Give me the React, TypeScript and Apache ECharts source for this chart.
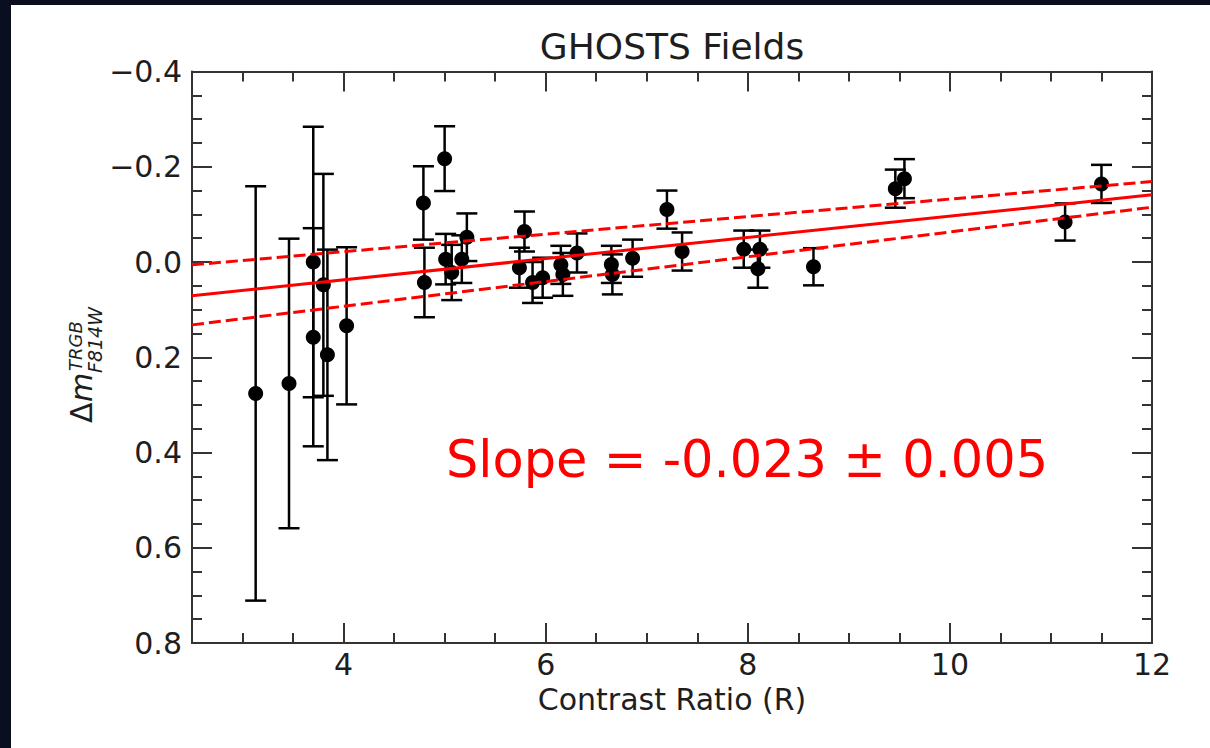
import React, { useEffect, useRef } from "react";
import * as echarts from "echarts";

// ---- data ----
const contrastRatio = [
  3.13, 3.46, 3.70, 3.70, 3.80, 3.84, 4.03, 4.79, 4.80, 5.00, 5.01, 5.07,
  5.17, 5.22, 5.74, 5.79, 5.87, 5.97, 6.15, 6.17, 6.31, 6.65, 6.66, 6.86,
  7.20, 7.35, 7.96, 8.10, 8.12, 8.65, 9.46, 9.55, 11.14, 11.50,
];
const deltaM = [
  0.276, 0.255, 0.000, 0.158, 0.048, 0.195, 0.134, -0.124, 0.043, -0.217, -0.006, 0.022,
  -0.006, -0.052, 0.012, -0.064, 0.043, 0.033, 0.006, 0.026, -0.019, 0.005, 0.026, -0.008,
  -0.110, -0.022, -0.027, 0.014, -0.027, 0.010, -0.154, -0.175, -0.084, -0.164,
];
const deltaMErr = [
  0.435, 0.304, 0.284, 0.229, 0.233, 0.221, 0.165, 0.077, 0.073, 0.068, 0.053, 0.058,
  0.050, 0.050, 0.042, 0.042, 0.043, 0.042, 0.040, 0.045, 0.041, 0.039, 0.042, 0.039,
  0.040, 0.040, 0.039, 0.040, 0.039, 0.039, 0.040, 0.041, 0.039, 0.040,
];
const fitX = [2.5, 12];
const fitMid = [0.071, -0.141];
const fitUpper = [0.006, -0.169];
const fitLower = [0.132, -0.115];
const xMajorTicks = [4, 6, 8, 10, 12];
const xMinorTicks = [3, 3.5, 4.5, 5, 5.5, 6.5, 7, 7.5, 8.5, 9, 9.5, 10.5, 11, 11.5];
const titleText = "GHOSTS Fields";
const xTitle = "Contrast Ratio (R)";
const slopeText = "Slope = -0.023 \u00b1 0.005";

const FONT = "'DejaVu Sans', 'Liberation Sans', sans-serif";
const AXIS_COLOR = "#333";
const TEXT_COLOR = "#1e1e1e";

function yFmt(v: number) {
  if (Math.abs(v) < 1e-9) return "0.0";
  return v < 0 ? "\u2212" + Math.abs(v).toFixed(1) : v.toFixed(1);
}

export default function App() {
  const ref = useRef<HTMLDivElement>(null);
  useEffect(() => {
    if (!ref.current) return;
    const chart = echarts.init(ref.current, null, { renderer: "svg" });

    const tickLine = { color: AXIS_COLOR, width: 2 };
    const xBase = {
      type: "value",
      min: 2.5,
      max: 12,
      splitLine: { show: false },
    };
    const yBase = {
      type: "value",
      min: -0.4,
      max: 0.8,
      interval: 0.2,
      inverse: true,
      splitLine: { show: false },
      axisLine: { show: true, onZero: false, lineStyle: { color: AXIS_COLOR, width: 2 } },
      axisTick: { show: true, inside: true, length: 20, lineStyle: tickLine },
      minorTick: { show: true, splitNumber: 4, length: 10, lineStyle: tickLine },
    };

    const errData = contrastRatio.map((x, i) => [x, deltaM[i], deltaMErr[i]]);
    const ptData = contrastRatio.map((x, i) => [x, deltaM[i]]);
    const line = (ys: number[]) => fitX.map((x, i) => [x, ys[i]]);

    const option: any = {
      animation: false,
      backgroundColor: "transparent",
      grid: {
        left: 192,
        right: 58,
        top: 71.5,
        bottom: 105,
        containLabel: false,
        outerBoundsMode: "none",
      },
      xAxis: [
        {
          ...xBase,
          position: "bottom",
          axisLine: { show: true, onZero: false, lineStyle: { color: AXIS_COLOR, width: 2 } },
          axisTick: { show: true, inside: true, length: 20, lineStyle: tickLine, customValues: xMajorTicks },
          axisLabel: {
            show: true,
            customValues: xMajorTicks,
            margin: 6,
            fontSize: 30,
            fontFamily: FONT,
            color: TEXT_COLOR,
            showMinLabel: true,
            showMaxLabel: true,
          },
        },
        {
          ...xBase,
          position: "bottom",
          axisLine: { show: false, onZero: false },
          axisTick: { show: true, inside: true, length: 10, lineStyle: tickLine, customValues: xMinorTicks },
          axisLabel: { show: false },
        },
        {
          ...xBase,
          position: "top",
          axisLine: { show: true, onZero: false, lineStyle: { color: AXIS_COLOR, width: 2 } },
          axisTick: { show: true, inside: true, length: 20, lineStyle: tickLine, customValues: xMajorTicks },
          axisLabel: { show: false },
        },
        {
          ...xBase,
          position: "top",
          axisLine: { show: false, onZero: false },
          axisTick: { show: true, inside: true, length: 10, lineStyle: tickLine, customValues: xMinorTicks },
          axisLabel: { show: false },
        },
      ],
      yAxis: [
        {
          ...yBase,
          position: "left",
          axisLabel: {
            show: true,
            margin: 10,
            fontSize: 30,
            fontFamily: FONT,
            color: TEXT_COLOR,
            formatter: yFmt,
            showMinLabel: true,
            showMaxLabel: true,
          },
        },
        {
          ...yBase,
          position: "right",
          axisLabel: { show: false },
        },
      ],
      series: [
        {
          type: "custom",
          name: "errors",
          xAxisIndex: 0,
          yAxisIndex: 0,
          z: 2,
          encode: { x: 0, y: 1 },
          data: errData,
          renderItem: (_params: any, api: any) => {
            const x = api.value(0);
            const y = api.value(1);
            const e = api.value(2);
            const top = api.coord([x, y - e]);
            const bot = api.coord([x, y + e]);
            const w = 10.5;
            const style = { stroke: "#000", lineWidth: 2.5, fill: null };
            return {
              type: "group",
              children: [
                { type: "line", shape: { x1: top[0], y1: top[1], x2: bot[0], y2: bot[1] }, style },
                { type: "line", shape: { x1: top[0] - w, y1: top[1], x2: top[0] + w, y2: top[1] }, style },
                { type: "line", shape: { x1: bot[0] - w, y1: bot[1], x2: bot[0] + w, y2: bot[1] }, style },
              ],
            };
          },
        },
        {
          type: "scatter",
          name: "points",
          xAxisIndex: 0,
          yAxisIndex: 0,
          z: 3,
          symbol: "circle",
          symbolSize: 15,
          itemStyle: { color: "#000", opacity: 1 },
          data: ptData,
        },
        {
          type: "line",
          name: "fit",
          xAxisIndex: 0,
          yAxisIndex: 0,
          z: 4,
          showSymbol: false,
          symbol: "none",
          lineStyle: { color: "#ff0000", width: 3, type: "solid" },
          data: line(fitMid),
        },
        {
          type: "line",
          name: "fitUpper",
          xAxisIndex: 0,
          yAxisIndex: 0,
          z: 4,
          showSymbol: false,
          symbol: "none",
          lineStyle: { color: "#ff0000", width: 3, type: [12, 5] },
          data: line(fitUpper),
        },
        {
          type: "line",
          name: "fitLower",
          xAxisIndex: 0,
          yAxisIndex: 0,
          z: 4,
          showSymbol: false,
          symbol: "none",
          lineStyle: { color: "#ff0000", width: 3, type: [12, 5] },
          data: line(fitLower),
        },
      ],
      graphic: [
        {
          type: "text",
          x: 672,
          y: 46,
          style: {
            text: titleText,
            font: `36px ${FONT}`,
            fill: TEXT_COLOR,
            align: "center",
            verticalAlign: "middle",
            textAlign: "center",
            textVerticalAlign: "middle",
          },
        },
        {
          type: "text",
          x: 672,
          y: 699,
          style: {
            text: xTitle,
            font: `30px ${FONT}`,
            fill: TEXT_COLOR,
            align: "center",
            verticalAlign: "middle",
            textAlign: "center",
            textVerticalAlign: "middle",
          },
        },
        {
          type: "text",
          x: 446,
          y: 459,
          z: 10,
          style: {
            text: slopeText,
            font: `51px ${FONT}`,
            fill: "#ff0000",
            align: "left",
            verticalAlign: "middle",
            textAlign: "left",
            textVerticalAlign: "middle",
          },
        },
        {
          type: "group",
          x: 92,
          y: 423,
          rotation: Math.PI / 2,
          children: [
            {
              type: "text",
              x: 0,
              y: -0.346 * 30,
              style: {
                text: "\u0394",
                font: `30px ${FONT}`,
                fill: TEXT_COLOR,
                align: "left",
                verticalAlign: "middle",
                textAlign: "left",
                textVerticalAlign: "middle",
              },
            },
            {
              type: "text",
              x: 21,
              y: -0.346 * 30,
              style: {
                text: "m",
                font: `italic 30px ${FONT}`,
                fill: TEXT_COLOR,
                align: "left",
                verticalAlign: "middle",
                textAlign: "left",
                textVerticalAlign: "middle",
              },
            },
            {
              type: "text",
              x: 50,
              y: 10 - 0.346 * 19,
              style: {
                text: "F814W",
                font: `italic 19px ${FONT}`,
                fill: TEXT_COLOR,
                align: "left",
                verticalAlign: "middle",
                textAlign: "left",
                textVerticalAlign: "middle",
              },
            },
            {
              type: "text",
              x: 52,
              y: -10 - 0.346 * 18,
              style: {
                text: "TRGB",
                font: `italic 18px ${FONT}`,
                fill: TEXT_COLOR,
                align: "left",
                verticalAlign: "middle",
                textAlign: "left",
                textVerticalAlign: "middle",
              },
            },
          ],
        },
      ],
    };

    chart.setOption(option);
    return () => chart.dispose();
  }, []);

  return (
    <div
      style={{
        position: "fixed",
        left: 0,
        top: 0,
        width: 1210,
        height: 748,
        background: "#0a0f1f",
        overflow: "hidden",
      }}
    >
      <div
        style={{
          position: "absolute",
          left: 11,
          top: 5,
          width: 1199,
          height: 743,
          background: "#ffffff",
        }}
      />
      <div
        ref={ref}
        style={{ position: "absolute", left: 0, top: 0, width: 1210, height: 748 }}
      />
    </div>
  );
}
